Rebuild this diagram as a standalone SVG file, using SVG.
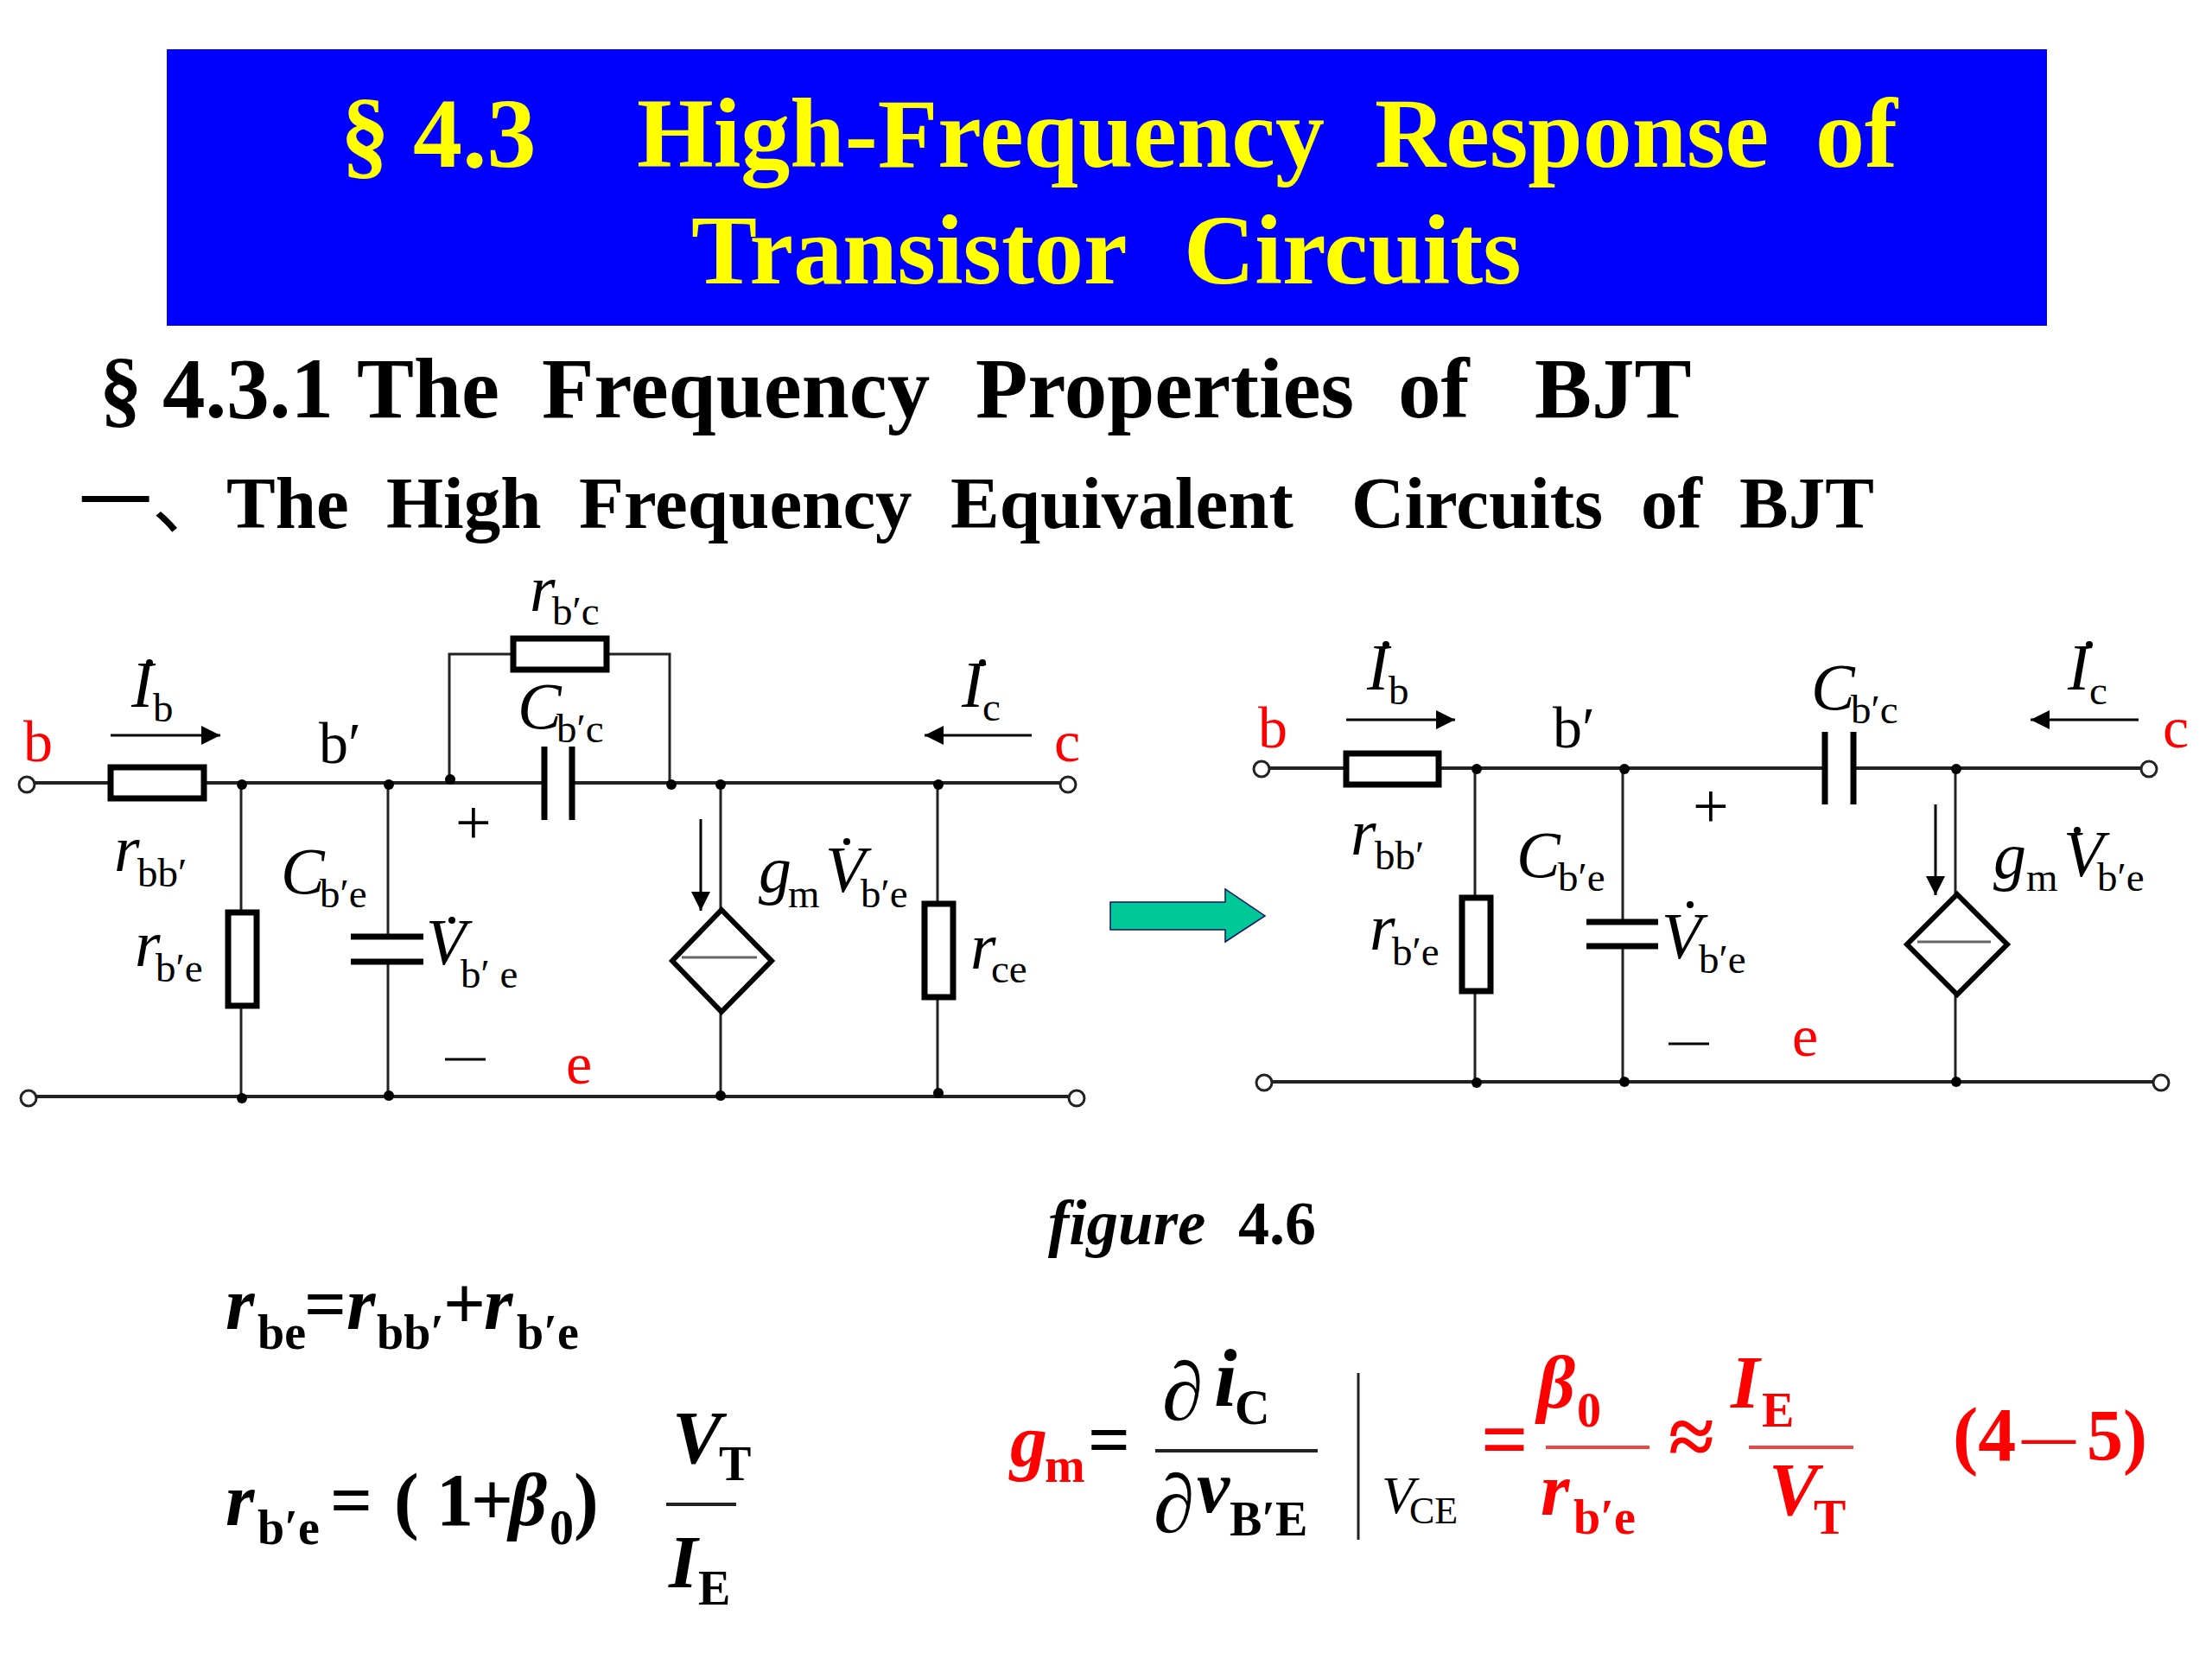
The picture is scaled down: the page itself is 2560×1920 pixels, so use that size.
<svg xmlns="http://www.w3.org/2000/svg" width="2560" height="1920" viewBox="0 0 2560 1920">
<style>
text{font-family:"Liberation Serif","Noto Sans CJK SC",serif;fill:#000}
.h1{font-size:114px;font-weight:bold;fill:#ff0}
.h2{font-size:99px;font-weight:bold}
.h3{font-size:85px;font-weight:bold}
.l{font-size:76px;font-style:italic}
.s{font-size:47px}
.n{font-size:68px}
.p{font-size:74px}
.red{fill:#f00}
.bi{font-size:86px;font-weight:bold;font-style:italic}
.bs{font-size:56px;font-weight:bold}
.b{font-size:86px;font-weight:bold}
.d{font-size:96px;font-style:italic}
.w{fill:none;stroke:#222;stroke-width:3}
.t{fill:none;stroke:#222;stroke-width:4}
.box{fill:#fff;stroke:#000;stroke-width:7}
.plate{stroke:#000;stroke-width:7;fill:none}
.dep{fill:#fff;stroke:#000;stroke-width:6}
.in{stroke:#666;stroke-width:3}
.dot{fill:#000}
.term{fill:#fff;stroke:#222;stroke-width:3}
.arr{stroke:#000;stroke-width:3;fill:none;marker-end:url(#ah)}
</style>
<defs>
<marker id="ah" markerUnits="userSpaceOnUse" markerWidth="26" markerHeight="22" refX="22" refY="11" orient="auto"><path d="M0 0L22 11L0 22Z" fill="#000"/></marker>
</defs>
<rect width="2560" height="1920" fill="#fff"/>
<g id="title">
<rect x="193" y="57" width="2176" height="320" fill="#0000ff"/>
<text class="h1" y="193"><tspan x="394">§</tspan><tspan x="478">4.3</tspan><tspan x="737">High-Frequency</tspan><tspan x="1591">Response</tspan><tspan x="2101">of</tspan></text>
<text class="h1" y="328"><tspan x="800">Transistor</tspan><tspan x="1370">Circuits</tspan></text>
</g>
<g id="headings">
<text class="h2" y="483"><tspan x="115">§</tspan><tspan x="188">4.3.1</tspan><tspan x="413">The</tspan><tspan x="627">Frequency</tspan><tspan x="1129">Properties</tspan><tspan x="1618">of</tspan><tspan x="1776">BJT</tspan></text>
<text class="h3" y="611"><tspan x="91" font-weight="normal">一、</tspan><tspan x="262">The</tspan><tspan x="447">High</tspan><tspan x="670">Frequency</tspan><tspan x="1100">Equivalent</tspan><tspan x="1564">Circuits</tspan><tspan x="1899">of</tspan><tspan x="2013">BJT</tspan></text>
</g>
<g id="connectors">
<path class="t" d="M40 906H630M662 906H1226"/>
<path class="t" d="M42 1269H1236"/>
<path class="w" d="M520 903V757H775V906"/>
<path class="w" d="M279 906V1269M449 906V1084M449 1113V1269M834 906V1269M1085 906V1269"/>
<path class="t" d="M1468 889H2112M2146 889H2477"/>
<path class="t" d="M1473 1252H2491"/>
<path class="w" d="M1707 889V1252M1878 889V1067M1878 1095V1252M2263 889V1252"/>
<path class="arr" d="M128 851H255"/>
<path class="arr" d="M1194 851H1070"/>
<path class="arr" d="M811 948V1054"/>
<path class="arr" d="M1558 833H1684"/>
<path class="arr" d="M2475 833H2350"/>
<path class="arr" d="M2240 931V1036"/>
</g>
<g id="circuit-left">
<g id="rbb1"><rect class="box" x="128" y="888" width="108" height="36"/></g>
<g id="rbc1"><rect class="box" x="594" y="739" width="108" height="36"/></g>
<g id="rbe1"><rect class="box" x="264" y="1056" width="33" height="108"/></g>
<g id="rce1"><rect class="box" x="1070" y="1046" width="33" height="108"/></g>
<g id="cbc1"><path class="plate" d="M630 864V949M662 864V949"/></g>
<g id="cbe1"><path class="plate" d="M406 1084H490M406 1113H490"/></g>
<g id="src1"><path class="dep" d="M835 1053L893 1112L835 1171L778 1112Z"/><path class="in" d="M789 1108H876"/></g>
<g id="nodes1">
<circle class="term" cx="31" cy="908" r="9"/><circle class="term" cx="1236" cy="908" r="9"/><circle class="term" cx="33" cy="1271" r="9"/><circle class="term" cx="1246" cy="1271" r="9"/>
<circle class="dot" cx="280" cy="908" r="6"/><circle class="dot" cx="450" cy="908" r="6"/><circle class="dot" cx="521" cy="902" r="6"/><circle class="dot" cx="777" cy="908" r="6"/><circle class="dot" cx="834" cy="908" r="6"/><circle class="dot" cx="1086" cy="908" r="6"/>
<circle class="dot" cx="280" cy="1271" r="6"/><circle class="dot" cx="450" cy="1268" r="6"/><circle class="dot" cx="834" cy="1268" r="6"/><circle class="dot" cx="1086" cy="1265" r="6"/>
</g>
<g id="labels1" transform="translate(-3,-4)">
<text class="n red" x="30" y="885">b</text>
<text class="l" x="155" y="822">I</text><text class="s" x="180" y="839">b</text><circle class="dot" cx="176" cy="771" r="4"/>
<text class="n" x="372" y="887">b′</text>
<text class="l" x="616" y="711">r</text><text class="s" x="642" y="727">b′c</text>
<text class="l" x="602" y="847">C</text><text class="s" x="647" y="863">b′c</text>
<text class="l" x="1116" y="822">I</text><text class="s" x="1140" y="838">c</text><circle class="dot" cx="1140" cy="771" r="4"/>
<text class="n red" x="1223" y="885">c</text>
<text class="p" x="530" y="981">+</text>
<text class="l" x="135" y="1012">r</text><text class="s" x="162" y="1030">bb′</text>
<text class="l" x="328" y="1038">C</text><text class="s" x="373" y="1054">b′e</text>
<text class="l" x="159" y="1122">r</text><text class="s" x="183" y="1140">b′e</text>
<text class="l" x="496" y="1120">V</text><text class="s" x="536" y="1147" xml:space="preserve">b′ e</text><circle class="dot" cx="526" cy="1069" r="4"/>
<text class="l" x="881" y="1036">g</text><text class="s" x="915" y="1054">m</text><text class="l" x="958" y="1036">V</text><circle class="dot" cx="983" cy="978" r="4"/><text class="s" x="999" y="1054">b′e</text>
<text class="l" x="1126" y="1125">r</text><text class="s" x="1150" y="1141">ce</text>
<path class="in" style="stroke:#000" d="M518 1230H565"/>
<text class="n red" x="658" y="1258">e</text>
</g>
</g>
<g id="big-arrow"><path d="M1285 1044H1418V1029L1464 1060L1418 1090V1076H1285Z" fill="#00c896" stroke="#116" stroke-width="1.5"/></g>
<g id="circuit-right">
<g id="rbb2"><rect class="box" x="1558" y="872" width="107" height="36"/></g>
<g id="rbe2"><rect class="box" x="1692" y="1039" width="33" height="108"/></g>
<g id="cbc2"><path class="plate" d="M2112 847V931M2145 847V931"/></g>
<g id="cbe2"><path class="plate" d="M1836 1067H1919M1836 1095H1919"/></g>
<g id="src2"><path class="dep" d="M2265 1035L2323 1093L2265 1151L2207 1093Z"/><path class="in" d="M2219 1090H2304"/></g>
<g id="nodes2">
<circle class="term" cx="1460" cy="890" r="9"/><circle class="term" cx="2487" cy="890" r="9"/><circle class="term" cx="1463" cy="1253" r="9"/><circle class="term" cx="2501" cy="1253" r="9"/>
<circle class="dot" cx="1709" cy="890" r="6"/><circle class="dot" cx="1880" cy="890" r="6"/><circle class="dot" cx="2264" cy="890" r="6"/>
<circle class="dot" cx="1709" cy="1253" r="6"/><circle class="dot" cx="1880" cy="1252" r="6"/><circle class="dot" cx="2264" cy="1252" r="6"/>
</g>
<g id="labels2" transform="translate(-10,-5)">
<text class="n red" x="1466" y="870">b</text>
<text class="l" x="1592" y="803">I</text><text class="s" x="1617" y="820">b</text><circle class="dot" cx="1614" cy="751" r="4"/>
<text class="n" x="1807" y="870">b′</text>
<text class="l" x="2106" y="826">C</text><text class="s" x="2152" y="842">b′c</text>
<text class="l" x="2403" y="803">I</text><text class="s" x="2428" y="820">c</text><circle class="dot" cx="2428" cy="751" r="4"/>
<text class="n red" x="2513" y="870">c</text>
<text class="p" x="1969" y="963">+</text>
<path class="in" style="stroke:#000" d="M1941 1213H1988"/>
<text class="l" x="1573" y="994">r</text><text class="s" x="1601" y="1011">bb′</text>
<text class="l" x="1765" y="1020">C</text><text class="s" x="1813" y="1036">b′e</text>
<text class="l" x="1595" y="1104">r</text><text class="s" x="1621" y="1122">b′e</text>
<text class="l" x="1933" y="1114">V</text><text class="s" x="1976" y="1131">b′e</text><circle class="dot" cx="1966" cy="1052" r="4"/>
<text class="l" x="2317" y="1021">g</text><text class="s" x="2355" y="1036">m</text><text class="l" x="2398" y="1019">V</text><circle class="dot" cx="2414" cy="966" r="4"/><text class="s" x="2437" y="1036">b′e</text>
<text class="n red" x="2084" y="1227">e</text>
</g>
</g>
<g id="caption"><text x="1213" y="1440" font-size="73" font-weight="bold" font-style="italic">figure</text><text x="1433" y="1440" font-size="72" font-weight="bold">4.6</text></g>
<g id="formula-rbe" transform="translate(0,-5)">
<text class="bi" x="261" y="1543">r</text><text class="bs" x="298" y="1566">be</text><text class="b" x="352" y="1543">=</text><text class="bi" x="401" y="1543">r</text><text class="bs" x="436" y="1566">bb′</text><text class="b" x="513" y="1543">+</text><text class="bi" x="560" y="1543">r</text><text class="bs" x="598" y="1566">b′e</text>
</g>
<g id="formula-rbe2" transform="translate(0,-5)">
<text class="bi" x="261" y="1770">r</text><text class="bs" x="298" y="1792">b′e</text><text class="b" x="382" y="1770">=</text><text class="b" x="456" y="1770">(</text><text class="b" x="505" y="1770">1</text><text class="b" x="545" y="1770">+</text><text class="bi" x="589" y="1770">β</text><text class="bs" x="636" y="1792">0</text><text class="b" x="664" y="1770">)</text>
<text class="bi" x="778" y="1698">V</text><text class="bs" x="832" y="1718">T</text><path class="t" d="M771 1746H852"/><text class="bi" x="774" y="1842">I</text><text class="bs" x="808" y="1862">E</text>
</g>
<g id="formula-gm" transform="translate(-7,-7)">
<text class="bi red" x="1176" y="1703">g</text><text class="bs red" x="1216" y="1722">m</text><text class="b" x="1266" y="1702">=</text>
<text class="d" x="1352" y="1650">∂</text><text class="bi" x="1412" y="1634" style="font-size:96px">i</text><text class="bs" x="1436" y="1655">C</text>
<path class="t" d="M1344 1686H1532"/>
<text class="d" x="1342" y="1780">∂</text><text class="bi" x="1392" y="1757">v</text><text class="bs" x="1430" y="1784">B′E</text>
<path class="w" stroke-width="2" d="M1579 1596V1789"/>
<text x="1606" y="1758" font-size="62" font-style="italic">V</text><text x="1638" y="1770" font-size="44">CE</text>
<text class="b red" x="1721" y="1705" style="font-size:96px">=</text>
<text class="bi red" x="1786" y="1636">β</text><text class="bs red" x="1832" y="1658">0</text><path class="t" style="stroke:#e44" d="M1796 1682H1916"/>
<text class="bi red" x="1790" y="1760">r</text><text class="bs red" x="1828" y="1782">b′e</text>
<text class="b red" x="1938" y="1702" style="font-size:96px">≈</text>
<text class="bi red" x="2010" y="1636">I</text><text class="bs red" x="2046" y="1658">E</text><path class="t" style="stroke:#e44" d="M2031 1682H2152"/>
<text class="bi red" x="2054" y="1760">V</text><text class="bs red" x="2106" y="1782">T</text>
<text class="b red" x="2267" y="1697" style="font-size:88px">(4</text><text class="b red" x="2347" y="1690" style="font-size:62px">—</text><text class="b red" x="2422" y="1697" style="font-size:84px">5)</text>
</g>
</svg>
